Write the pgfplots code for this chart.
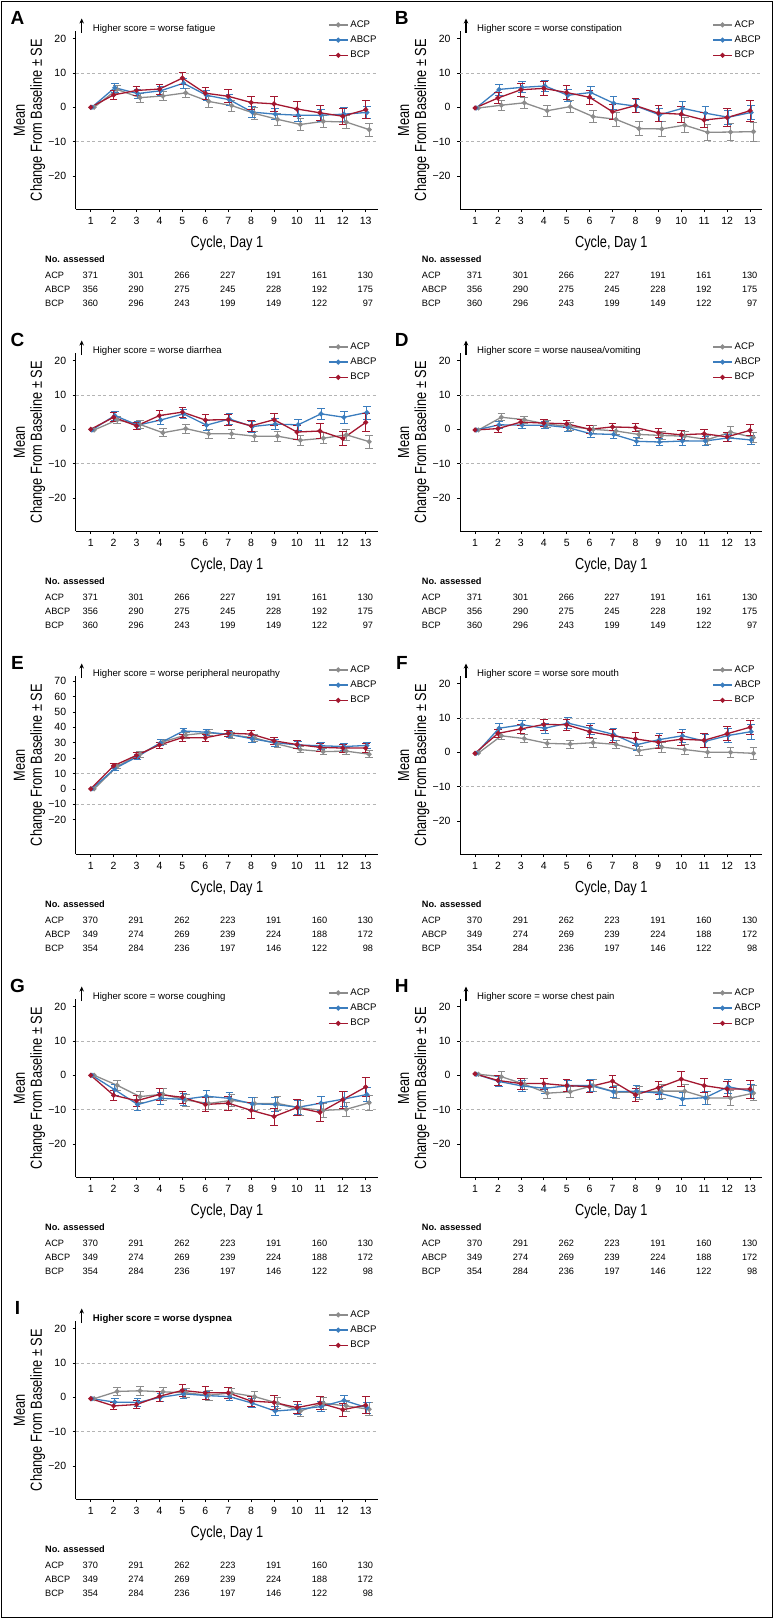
\documentclass[border=0pt]{standalone}
\usepackage{fontspec}
\setmainfont{Liberation Sans}
\newfontfamily\condfont[FakeStretch=0.8]{Liberation Sans}
\usepackage{pgfplots}
\usepackage{pgfplotstable}
\pgfplotsset{compat=1.18}
\usetikzlibrary{arrows.meta}

\definecolor{cACP}{HTML}{8C8C8C}
\definecolor{cABCP}{HTML}{3B7DBE}
\definecolor{cBCP}{HTML}{A3172F}
\definecolor{cRef}{HTML}{B4B4B4}

% columns: a = ACP, b = ABCP, c = BCP; *e = SE
\pgfplotstableread{
x a ae b be c ce
1 0 0 0 0 0 0
2 5.2 1.2 5.7 1.3 3.6 1.2
3 2.8 1.3 4.0 1.3 4.9 1.3
4 3.3 1.4 4.8 1.4 5.3 1.4
5 4.2 1.4 7.0 1.5 8.5 1.8
6 1.7 1.6 3.5 1.5 4.1 1.8
7 0.5 1.6 2.2 1.5 3.2 1.9
8 -1.8 1.7 -1.4 1.6 1.4 1.9
9 -3.5 1.7 -2.0 1.6 1.0 2.1
10 -5.0 1.8 -2.3 1.7 -0.5 2.2
11 -4.1 1.8 -2.3 1.7 -1.6 2.3
12 -4.3 1.9 -2.0 2.0 -2.6 2.3
13 -6.5 1.9 -1.5 1.8 -0.7 2.6
}\tA
\pgfplotstableread{
x a ae b be c ce
1 -0.2 0 -0.2 0 -0.2 0
2 0.6 1.5 5.2 1.6 2.7 1.6
3 1.3 1.6 5.8 1.6 5.1 1.8
4 -1.0 1.7 6.2 1.7 5.5 1.9
5 0.2 1.7 3.5 1.7 4.3 2.0
6 -2.7 1.8 4.3 1.8 2.9 2.0
7 -3.5 2.0 1.2 1.9 -1.3 2.1
8 -6.2 2.1 0.3 1.9 0.5 2.1
9 -6.3 2.1 -2.2 2.0 -1.7 2.4
10 -5.2 2.2 -0.3 2.0 -2.0 2.3
11 -7.3 2.4 -1.7 2.1 -3.7 2.1
12 -7.2 2.4 -2.9 2.1 -3.0 2.6
13 -7.1 2.8 -1.5 2.0 -1.0 3.0
}\tB
\pgfplotstableread{
x a ae b be c ce
1 -0.2 0 -0.2 0 0 0
2 2.7 1.0 4.0 1.3 3.5 1.3
3 1.4 1.1 1.2 1.1 1.0 1.1
4 -1.0 1.2 2.7 1.4 4.0 1.4
5 0.2 1.3 4.5 1.4 5.0 1.4
6 -1.3 1.3 1.2 1.5 2.7 1.6
7 -1.3 1.4 3.0 1.5 2.8 1.6
8 -2.0 1.4 0.8 1.6 1.0 1.5
9 -2.0 1.5 1.5 1.6 2.8 1.8
10 -3.2 1.5 1.3 1.6 -0.8 2.0
11 -2.6 1.6 4.5 1.7 -0.5 2.2
12 -1.6 1.7 3.5 1.8 -2.7 2.0
13 -3.6 1.9 4.9 1.9 2.0 2.5
}\tC
\pgfplotstableread{
x a ae b be c ce
1 -0.2 0 -0.2 0 -0.2 0
2 3.5 1.0 1.3 0.9 0.2 1.0
3 2.8 1.0 1.2 0.9 2.1 0.9
4 1.5 1.0 1.2 1.0 1.8 1.0
5 0.8 1.1 0.5 1.0 1.6 1.1
6 0 1.1 -1.3 1.1 0 1.2
7 -0.5 1.1 -1.5 1.1 0.7 1.1
8 -1.5 1.2 -3.5 1.2 0.5 1.2
9 -1.8 1.2 -3.7 1.1 -1.0 1.3
10 -2.0 1.3 -3.4 1.2 -1.6 1.3
11 -3.0 1.3 -3.4 1.2 -1.3 1.2
12 -0.8 1.6 -2.5 1.1 -2.2 1.2
13 -2.4 1.4 -3.1 1.3 -0.3 1.6
}\tD
\pgfplotstableread{
x a ae b be c ce
1 0 0 0 0 0 0
2 14.5 1.5 13.2 1.5 15.0 1.6
3 22.5 1.8 21.0 1.7 21.8 1.8
4 30.5 1.9 30.0 1.9 28.5 2.0
5 35.0 2.0 37.6 2.0 33.3 2.2
6 36.5 2.0 36.8 2.0 33.2 2.3
7 35.0 2.0 35.4 2.0 36.1 2.2
8 33.1 2.0 32.5 2.0 35.6 2.4
9 29.1 2.0 30.0 2.1 31.2 2.4
10 25.5 2.1 28.5 2.1 28.8 2.5
11 24.2 2.1 28.0 2.1 27.0 2.5
12 24.5 2.2 27.5 2.2 26.5 2.6
13 22.5 2.3 28.2 2.2 26.5 2.8
}\tE
\pgfplotstableread{
x a ae b be c ce
1 -0.2 0 -0.3 0 -0.3 0
2 4.8 1.1 7.0 1.3 5.5 1.2
3 4.0 1.2 8.0 1.4 6.8 1.4
4 2.6 1.2 7.0 1.5 8.1 1.6
5 2.4 1.2 8.5 1.6 8.0 1.7
6 2.8 1.3 6.9 1.6 6.0 1.7
7 2.3 1.3 5.2 1.7 4.8 1.8
8 0.5 1.3 2.2 1.7 3.9 1.8
9 1.5 1.4 3.7 1.8 2.9 1.9
10 0.8 1.4 4.8 1.8 3.8 1.9
11 0 1.5 3.2 1.9 3.5 2.0
12 0 1.5 4.9 2.0 5.4 2.0
13 -0.3 1.7 6.0 2.1 7.3 2.0
}\tF
\pgfplotstableread{
x a ae b be c ce
1 0 0 0 0 0 0
2 -2.9 1.5 -4.2 1.5 -5.8 1.5
3 -6.2 1.6 -8.5 1.6 -7.4 1.7
4 -5.5 1.7 -6.7 1.7 -5.6 1.8
5 -7.2 1.7 -7.0 1.7 -6.4 1.8
6 -8.2 1.8 -6.1 1.7 -8.5 2.0
7 -7.3 1.8 -6.7 1.8 -8.1 2.1
8 -8.2 1.9 -8.3 1.9 -10.2 2.2
9 -8.2 2.0 -8.5 2.0 -12.0 2.5
10 -9.5 2.1 -9.3 2.0 -9.4 2.4
11 -10.2 2.1 -8.1 2.1 -10.8 2.6
12 -9.9 2.1 -6.9 2.1 -7.1 2.4
13 -8.0 2.2 -5.6 2.1 -3.4 2.8
}\tG
\pgfplotstableread{
x a ae b be c ce
1 0.3 0 0.3 0 0.4 0
2 -0.4 1.5 -1.8 1.4 -1.5 1.4
3 -2.6 1.6 -3.1 1.5 -2.4 1.6
4 -5.2 1.6 -3.8 1.5 -2.4 1.6
5 -4.8 1.7 -3.0 1.6 -3.0 1.7
6 -3.0 1.8 -3.0 1.7 -3.3 1.8
7 -4.9 1.9 -4.8 1.7 -1.7 1.8
8 -5.0 1.9 -4.6 1.8 -5.7 1.9
9 -4.6 2.0 -5.2 1.8 -3.6 1.9
10 -4.6 2.0 -6.9 1.9 -1.1 2.2
11 -6.6 2.0 -6.5 1.9 -3.0 2.1
12 -6.6 2.1 -3.3 2.0 -4.0 2.2
13 -5.2 2.2 -4.7 2.0 -4.0 2.6
}\tH
\pgfplotstableread{
x a ae b be c ce
1 -0.4 0 -0.4 0 -0.4 0
2 1.7 1.1 -1.4 1.0 -2.5 1.0
3 1.9 1.2 -1.5 1.1 -2.1 1.2
4 1.6 1.3 0 1.2 0.3 1.5
5 1.3 1.4 1.0 1.2 2.0 1.8
6 0.6 1.4 0.5 1.2 1.3 1.8
7 1.3 1.4 0.2 1.2 1.3 1.7
8 0.2 1.5 -1.7 1.3 -1.1 1.5
9 -1.7 1.6 -4.0 1.3 -1.5 2.0
10 -4.0 1.5 -3.5 1.4 -3.0 1.8
11 -1.7 1.7 -2.7 1.4 -1.7 1.9
12 -2.5 1.7 -0.9 1.5 -3.6 1.9
13 -3.5 1.9 -3.0 1.6 -2.3 2.5
}\tI

\newcommand{\tabfont}{\fontsize{9.2}{10}\selectfont}
\newcommand{\capfont}{\fontsize{9.6}{10}\selectfont}
\newcommand{\labfont}{\condfont\fontsize{16}{16}\selectfont}

\tikzset{tabnode/.style={inner sep=0pt, font=\tabfont, text height=6.6pt, text depth=0pt}}

\pgfplotsset{
  panel/.style={
    scale only axis, width=302.4pt, height=178pt, anchor=south west,
    xmin=0.345, xmax=13.54, ymin=-29.6, ymax=22.2,
    axis lines*=left, axis line style={-, line width=1pt},
    xtick={1,...,13}, ytick={-20,-10,0,10,20},
    yticklabels={−20,−10,0,10,20},
    tick align=outside, major tick length=3pt,
    tick style={line width=0.7pt, black},
    /pgf/number format/assume math mode=true,
    tick label style={font=\fontsize{10.5}{11}\selectfont},
    xticklabel style={yshift=-2pt},
    yticklabel style={xshift=-3pt},
    clip=false,
    legend cell align=left,
    legend style={at={(axis description cs:0.834,0.949)}, anchor=west,
      draw=none, fill=none, inner sep=0pt, row sep=3pt,
      font=\fontsize{9.6}{10}\selectfont},
    legend image code/.code={\draw[mark repeat=2,mark phase=2]
      plot coordinates {(0pt,0pt) (9.5pt,0pt) (19pt,0pt)};},
  },
}

% one series: error bars (skipping cycle 1), then line with markers
\newcommand{\ser}[5]{%
  \addplot[draw=none, mark=none, forget plot, skip coords between index={0}{1},
    error bars/.cd, y dir=both, y explicit,
    error bar style={draw=#4, line width=0.75pt, solid},
    error mark options={draw=#4, rotate=90, mark size=3.8pt, line width=0.75pt}]
    table[x expr=\thisrow{x}+#5, y=#2, y error=#3] {#1};
  \addplot[color=#4, line width=1.3pt, mark=*, mark size=1.8pt]
    table[x expr=\thisrow{x}+#5, y=#2] {#1};
}
\newcommand{\three}[1]{%
  \draw[cRef, line width=0.75pt, dash pattern=on 3pt off 2.5pt] (axis cs:0.345,10) -- (axis cs:13.45,10);
  \draw[cRef, line width=0.75pt, dash pattern=on 3pt off 2.5pt] (axis cs:0.345,-10) -- (axis cs:13.45,-10);
  \ser{#1}{a}{ae}{cACP}{0.15}
  \ser{#1}{b}{be}{cABCP}{0.05}
  \ser{#1}{c}{ce}{cBCP}{0}
  \legend{ACP,ABCP,BCP}
}

% panel letter, arrow note, axis titles
\newcommand{\deco}[4]{%
  \node[inner sep=0pt, font=\fontsize{19}{19}\selectfont\bfseries] at ({#1+17.5},{191.5-#2}) {#3};
  \draw[line width=1.1pt, -{Stealth[length=5pt, width=4.5pt]}] ({#1+81.7},{176-#2}) -- ({#1+81.7},{190.5-#2});
  \node[anchor=west, inner sep=0pt, font=\capfont, text height=6.8pt, text depth=0pt] at ({#1+92.7},{181-#2}) {#4};
  \node[rotate=90, inner sep=0pt, font=\labfont, text height=11.5pt, text depth=0pt] at ({#1+19},{89-#2}) {Mean};
  \node[rotate=90, inner sep=0pt, font=\labfont, text height=11.5pt, text depth=0pt] at ({#1+36},{89-#2}) {Change From Baseline ± SE};
  \node[inner sep=0pt, font=\labfont, text height=11.5pt, text depth=0pt] at ({#1+227},{-#2-33}) {Cycle, Day 1};
}
% numbers assessed
\newcommand{\assessed}[6]{%
  \node[tabnode, anchor=west, font=\tabfont\bfseries] at (#3,{-#2-50}) {No. assessed};
  \node[tabnode, anchor=west] at (#3,{-#2-66}) {ACP};
  \node[tabnode, anchor=west] at (#3,{-#2-80}) {ABCP};
  \node[tabnode, anchor=west] at (#3,{-#2-94}) {BCP};
  \foreach \v [count=\i] in {#4} {\node[tabnode, anchor=east] at ({#1+98.2+(\i-1)*45.84},{-#2-66}) {\v};}
  \foreach \v [count=\i] in {#5} {\node[tabnode, anchor=east] at ({#1+98.2+(\i-1)*45.84},{-#2-80}) {\v};}
  \foreach \v [count=\i] in {#6} {\node[tabnode, anchor=east] at ({#1+98.2+(\i-1)*45.84},{-#2-94}) {\v};}
}
\newcommand{\tabone}[3]{\assessed{#1}{#2}{#3}{371,301,266,227,191,161,130}{356,290,275,245,228,192,175}{360,296,243,199,149,122,97}}
\newcommand{\tabtwo}[3]{\assessed{#1}{#2}{#3}{370,291,262,223,191,160,130}{349,274,269,239,224,188,172}{354,284,236,197,146,122,98}}

\begin{document}
\begin{tikzpicture}[x=1pt, y=1pt]
\path[use as bounding box] (0,0) rectangle (774,-1619);
\draw[line width=1.3pt] (1.2,-1.2) rectangle (772.8,-1617.8);

% row 1
\begin{axis}[panel, at={(75.7pt,-209pt)}] \three{\tA} \end{axis}
\begin{axis}[panel, at={(460pt,-209pt)}] \three{\tB} \end{axis}
\deco{0}{209}{A}{Higher score = worse fatigue}
\deco{384.3}{209}{B}{Higher score = worse constipation}
\tabone{0}{209}{45}
\tabone{384.3}{209}{421.7}

% row 2
\begin{axis}[panel, at={(75.7pt,-531pt)}] \three{\tC} \end{axis}
\begin{axis}[panel, at={(460pt,-531pt)}] \three{\tD} \end{axis}
\deco{0}{531}{C}{Higher score = worse diarrhea}
\deco{384.3}{531}{D}{Higher score = worse nausea/vomiting}
\tabone{0}{531}{45}
\tabone{384.3}{531}{421.7}

% row 3
\begin{axis}[panel, at={(75.7pt,-854pt)}, ymin=-42.3, ymax=73.3,
  ytick={-20,-10,0,10,20,30,40,50,60,70},
  yticklabels={−20,−10,0,10,20,30,40,50,60,70}] \three{\tE} \end{axis}
\begin{axis}[panel, at={(460pt,-854pt)}] \three{\tF} \end{axis}
\deco{0}{854}{E}{Higher score = worse peripheral neuropathy}
\deco{384.3}{854}{F}{Higher score = worse sore mouth}
\tabtwo{0}{854}{45}
\tabtwo{384.3}{854}{421.7}

% row 4
\begin{axis}[panel, at={(75.7pt,-1177pt)}] \three{\tG} \end{axis}
\begin{axis}[panel, at={(460pt,-1177pt)}] \three{\tH} \end{axis}
\deco{0}{1177}{G}{Higher score = worse coughing}
\deco{384.3}{1177}{H}{Higher score = worse chest pain}
\tabtwo{0}{1177}{45}
\tabtwo{384.3}{1177}{421.7}

% row 5
\begin{axis}[panel, at={(75.7pt,-1499pt)}] \three{\tI} \end{axis}
\deco{0}{1499}{I}{\bfseries Higher score = worse dyspnea}
\tabtwo{0}{1499}{45}
\end{tikzpicture}
\end{document}
